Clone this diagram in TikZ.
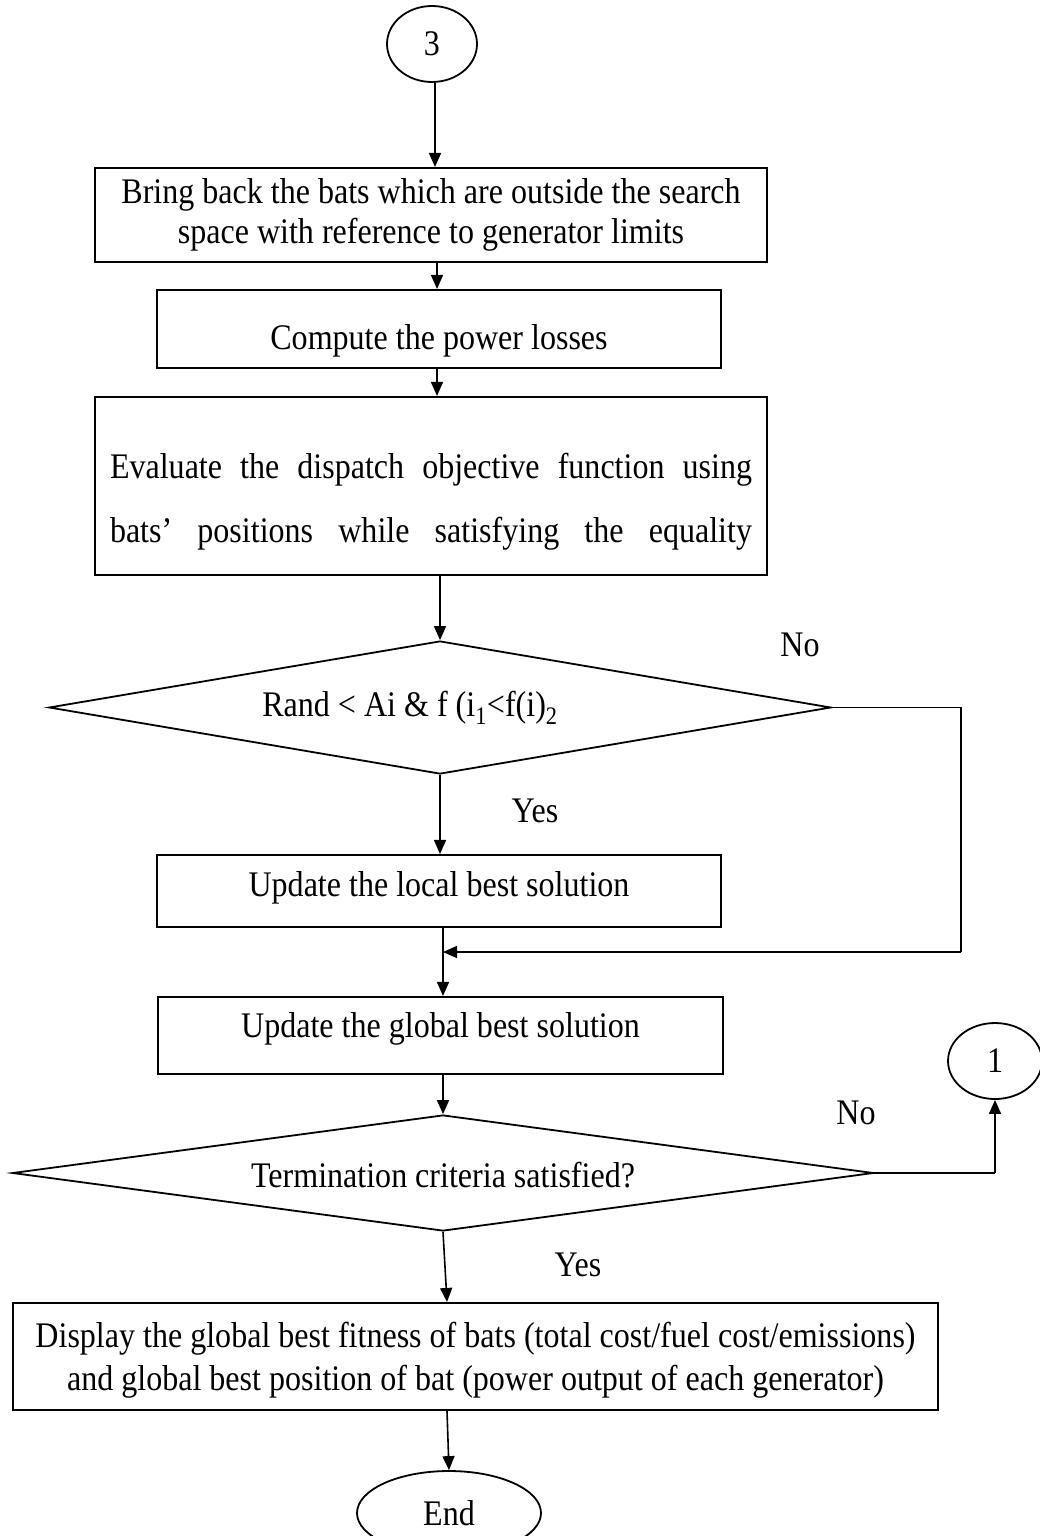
\documentclass[tikz,border=0pt]{standalone}
\usepackage{fontspec}
\setmainfont{Liberation Serif}[FakeStretch=0.89]
\usetikzlibrary{shapes.geometric,arrows.meta}
\newcommand{\mvtext}[2]{\raisebox{#1}[\height][\depth]{\begin{tabular}{@{}c@{}}#2\end{tabular}}}
\begin{document}
\begin{tikzpicture}[x=1pt,y=-1pt,
  every node/.style={font=\fontsize{36}{40}\selectfont},
  box/.style={draw, line width=2.1pt, inner sep=0pt, align=center},
  oval/.style={draw, ellipse, line width=1.8pt, inner sep=0pt},
  dec/.style={draw, diamond, line width=1.8pt, inner sep=0pt},
  conn/.style={line width=1.6pt},
  arr/.style={conn, -{Triangle[length=14pt,width=12pt]}},
  lbl/.style={inner sep=0pt}]
\useasboundingbox (0,0) rectangle (1040,1536);
% nodes
\node[oval, minimum width=90pt, minimum height=76pt] (c3) at (432,44) {3};
\node[box, minimum width=672pt, minimum height=94pt] (b1) at (431,215)
  {\mvtext{0pt}{Bring back the bats which are outside the search\\space with reference to generator limits}};
\node[box, minimum width=564pt, minimum height=78pt] (b2) at (439,329) {\mvtext{-12pt}{Compute the power losses}};
\node[box, minimum width=672pt, minimum height=178pt] (b3) at (431,486)
  {\mvtext{-16pt}{\makebox[642pt][s]{Evaluate the dispatch objective function using}\\[24pt]\makebox[642pt][s]{bats’ positions while satisfying the equality}}};
\node[dec, minimum width=782pt, minimum height=133pt] (d1) at (440,707.5) {};
\node[lbl] (t1) at (410,708) {Rand < Ai \& f (i\textsubscript{1}<f(i)\textsubscript{2}};
\node[box, minimum width=564pt, minimum height=72pt] (b4) at (439,891) {\mvtext{3pt}{Update the local best solution}};
\coordinate (m) at (443,952);
\node[box, minimum width=565pt, minimum height=77pt] (b5) at (440.5,1035.5) {\mvtext{6pt}{Update the global best solution}};
\node[dec, minimum width=861pt, minimum height=116pt] (d2) at (443,1173) {};
\node[lbl] (t2) at (443,1175) {Termination criteria satisfied?};
\node[oval, minimum width=94pt, minimum height=76pt] (c1) at (995,1061) {1};
\node[box, minimum width=925pt, minimum height=107pt] (b6) at (475.5,1356.5)
  {\mvtext{-4pt}{Display the global best fitness of bats (total cost/fuel cost/emissions)\\[3pt]and global best position of bat (power output of each generator)}};
\node[oval, minimum width=184pt, minimum height=84pt] (e) at (449,1513) {End};
% labels
\node[lbl] (no1) at (800,645) {No};
\node[lbl] (yes1) at (535,811) {Yes};
\node[lbl] (no2) at (856,1113) {No};
\node[lbl] (yes2) at (578,1265) {Yes};
% connectors
\draw[arr] (c3.south -| 435,0) -- (b1.north -| 435,0);
\draw[arr] (b1.south -| 437,0) -- (b2.north -| 437,0);
\draw[arr] (b2.south -| 437,0) -- (b3.north -| 437,0);
\draw[arr] (b3.south -| d1.north) -- (d1.north);
\draw[arr] (d1.south) -- (b4.north -| d1.south);
\draw[conn] (d1.east) -- (961,707.5) -- (961,952);
\draw[arr] (961,952) -- (m);
\draw[arr] (b4.south -| m) -- (b5.north -| m);
\draw[arr] (b5.south -| d2.north) -- (d2.north);
\draw[conn] (d2.east) -- (c1.south |- d2.east);
\draw[arr] (c1.south |- d2.east) -- (c1.south);
\draw[arr] (d2.south) -- (b6.north -| 447,0);
\draw[arr] (b6.south -| 447,0) -- (e.north);
\end{tikzpicture}
\end{document}
